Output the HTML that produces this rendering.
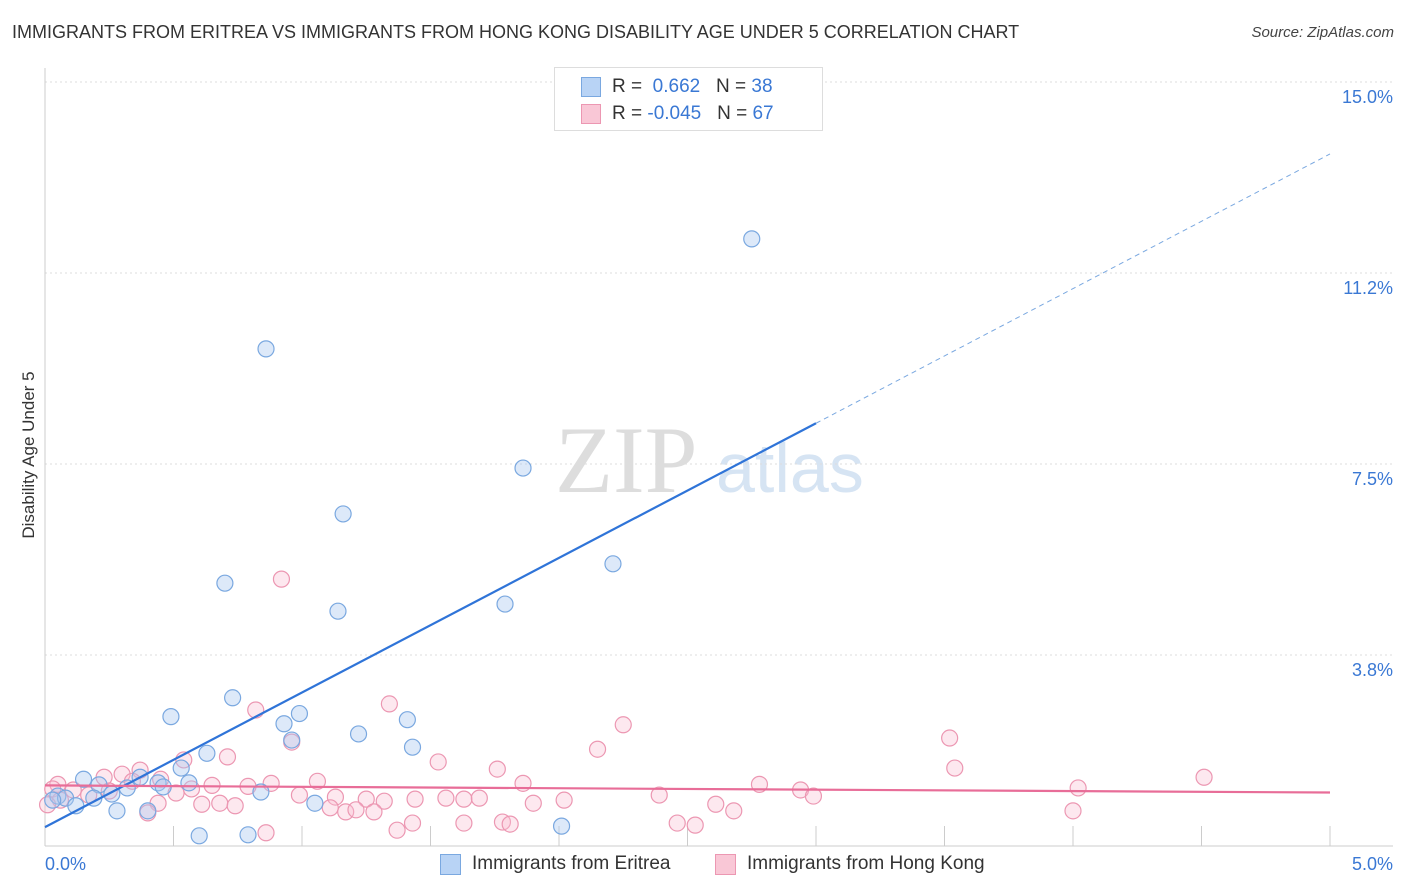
<!DOCTYPE html>
<html><head><meta charset="utf-8"><style>
body{margin:0;background:#fff;font-family:"Liberation Sans",sans-serif;}
#c{position:relative;width:1406px;height:892px;overflow:hidden;}
.t{position:absolute;white-space:nowrap;}
</style></head><body>
<div id="c">
<div class="t" style="left:12px;top:22px;font-size:18px;color:#333;">IMMIGRANTS FROM ERITREA VS IMMIGRANTS FROM HONG KONG DISABILITY AGE UNDER 5 CORRELATION CHART</div>
<div class="t" style="right:12px;top:24px;font-size:15px;color:#444;font-style:italic;">Source: ZipAtlas.com</div>
<svg id="s" width="1406" height="892" style="position:absolute;left:0;top:0">
<text x="555" y="492" font-size="95" fill="#ddd" font-family="Liberation Serif">ZIP</text>
<text x="716" y="492" font-size="70" fill="#d6e4f3" font-family="Liberation Sans">atlas</text>
<text transform="translate(34,455) rotate(-90)" text-anchor="middle" font-size="17" fill="#333">Disability Age Under 5</text>
</svg>
<div style="position:absolute;left:554px;top:67px;width:267px;height:62px;border:1px solid #ddd;background:#fff;">
<div style="position:absolute;left:26px;top:9px;width:18px;height:18px;background:#b8d3f5;border:1px solid #7aa8e0;"></div>
<div style="position:absolute;left:26px;top:36px;width:18px;height:18px;background:#f9c7d6;border:1px solid #ec97b2;"></div>
<div class="t" style="left:57px;top:8px;font-size:19px;color:#333;">R = &nbsp;<span style="color:#3a78d4">0.662</span> &nbsp;&nbsp;N = <span style="color:#3a78d4">38</span></div>
<div class="t" style="left:57px;top:35px;font-size:19px;color:#333;">R = <span style="color:#3a78d4">-0.045</span> &nbsp;&nbsp;N = <span style="color:#3a78d4">67</span></div>
</div>
<div style="position:absolute;left:440px;top:854px;width:19px;height:19px;background:#b8d3f5;border:1px solid #7aa8e0;"></div>
<div class="t" style="left:472px;top:853px;font-size:19px;color:#333;">Immigrants from Eritrea</div>
<div style="position:absolute;left:715px;top:854px;width:19px;height:19px;background:#f9c7d6;border:1px solid #ec97b2;"></div>
<div class="t" style="left:747px;top:853px;font-size:19px;color:#333;">Immigrants from Hong Kong</div>
</div>
<script>
const yTicks=[0,3.75,7.5,11.25,15];
const yTickLabels=["","3.8%","7.5%","11.2%","15.0%"];
const xTickLabels=["0.0%","5.0%"];
const eritreaX=[2.75,0.86,1.86,1.16,2.21,0.70,1.79,1.14,0.73,0.49,0.99,0.93,1.41,0.96,1.22,0.63,1.43,0.53,0.37,0.15,0.44,0.56,0.32,0.21,0.05,0.08,0.19,0.26,0.84,1.05,0.12,0.28,0.40,0.60,0.79,2.01,0.03,0.46];
const eritreaY=[11.92,9.76,7.42,6.52,5.54,5.16,4.75,4.61,2.91,2.54,2.60,2.40,2.48,2.08,2.20,1.82,1.94,1.53,1.35,1.31,1.24,1.24,1.14,1.20,0.98,0.94,0.94,1.02,1.06,0.84,0.79,0.69,0.69,0.20,0.22,0.39,0.90,1.16];
const hkX=[0.92,1.34,0.82,2.25,0.96,2.15,3.52,0.54,0.71,1.53,1.76,3.54,4.51,0.37,0.30,0.23,0.45,0.65,0.79,0.88,1.06,1.86,2.78,2.94,2.99,4.02,0.05,0.11,0.17,0.25,0.34,0.51,0.57,0.99,1.13,1.25,1.32,1.44,1.56,1.63,1.69,2.02,2.39,2.61,2.68,0.44,0.61,0.68,0.74,1.11,1.17,1.21,1.28,1.90,0.40,1.37,1.43,1.63,1.78,1.81,2.46,2.53,4.00,0.86,0.03,0.06,0.01];
const hkY=[5.24,2.79,2.67,2.38,2.04,1.90,2.12,1.69,1.75,1.65,1.51,1.53,1.35,1.49,1.41,1.35,1.31,1.19,1.17,1.23,1.27,1.23,1.21,1.10,0.98,1.14,1.21,1.10,1.00,1.08,1.27,1.04,1.12,1.00,0.96,0.92,0.88,0.92,0.94,0.92,0.94,0.90,1.00,0.82,0.69,0.84,0.82,0.84,0.79,0.75,0.67,0.71,0.67,0.84,0.65,0.31,0.45,0.45,0.47,0.43,0.45,0.41,0.69,0.26,1.12,0.90,0.81];
const eritreaTrend=[0.37,8.3];
const hkTrend=[1.19,1.05];
const X0=45,X1=1330,Y0=846,Y1=82;
const sx=v=>X0+(X1-X0)*v/5;
const sy=v=>Y0-(Y0-Y1)*v/15;
const NS="http://www.w3.org/2000/svg";
const svg=document.getElementById('s');
function mk(tag,attrs){const e=document.createElementNS(NS,tag);for(const k in attrs)e.setAttribute(k,attrs[k]);svg.appendChild(e);return e;}
yTicks.forEach((v,i)=>{
 if(i>0){const g=mk('line',{x1:X0,x2:1393,y1:sy(v),y2:sy(v),stroke:'#ddd','stroke-dasharray':'2,3'});
 
 
 const t=mk('text',{x:1393,y:sy(v)+21,'text-anchor':'end','font-size':18,fill:'#3a78d4'});t.textContent=yTickLabels[i];
 
 }
});
const ax=mk('line',{x1:X0,x2:X0,y1:68,y2:Y0,stroke:'#ccc'});


const bx=mk('line',{x1:X0,x2:1393,y1:Y0,y2:Y0,stroke:'#ccc'});


for(let i=0;i<=10;i++){const v=i*0.5;const tk=mk('line',{x1:sx(v),x2:sx(v),y1:Y0,y2:Y0-20,stroke:'#ccc'});

}
xTickLabels.forEach((l,i)=>{const t=mk('text',{x:i?1393:45,y:870,'text-anchor':i?'end':'start','font-size':18,fill:'#3a78d4'});t.textContent=l;

});
hkX.forEach((x,i)=>{const c=mk('circle',{cx:sx(x),cy:sy(hkY[i]),r:8,fill:'rgba(249,190,210,0.35)',stroke:'#ec97b2','stroke-width':1.2});

});
eritreaX.forEach((x,i)=>{const c=mk('circle',{cx:sx(x),cy:sy(eritreaY[i]),r:8,fill:'rgba(170,200,240,0.4)',stroke:'#7aa8e0','stroke-width':1.2});

});
const slope=(eritreaTrend[1]-eritreaTrend[0])/3;
const l1=mk('line',{x1:sx(0),y1:sy(eritreaTrend[0]),x2:sx(3),y2:sy(eritreaTrend[1]),stroke:'#2f74d8','stroke-width':2.2});


const l2=mk('line',{x1:sx(3),y1:sy(eritreaTrend[1]),x2:sx(5),y2:sy(eritreaTrend[0]+slope*5),stroke:'#7aa8e0','stroke-width':1,'stroke-dasharray':'5,4'});


const l3=mk('line',{x1:sx(0),y1:sy(hkTrend[0]),x2:sx(5),y2:sy(hkTrend[1]),stroke:'#e86d98','stroke-width':2.2});


</script>
</body></html>
